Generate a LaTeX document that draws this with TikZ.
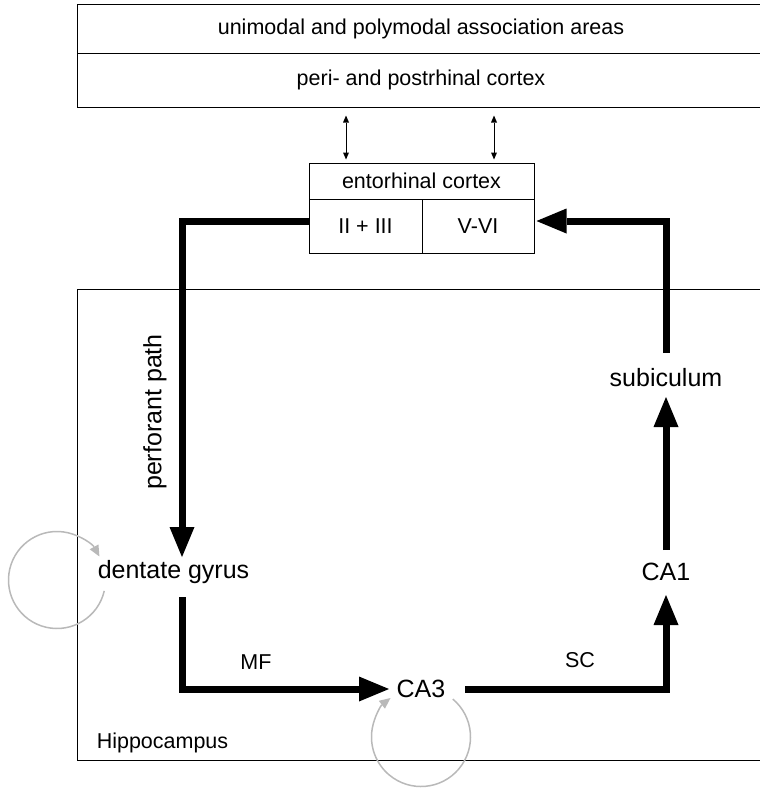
\documentclass[tikz,border=0pt]{standalone}
\usepackage{fontspec}
\setmainfont{Liberation Sans}
\usetikzlibrary{arrows.meta}
\newcommand{\smallsize}{\fontsize{21.5}{24}\selectfont}
\newcommand{\bigsize}{\fontsize{25}{28}\selectfont}
\begin{document}
\begin{tikzpicture}[x=1pt, y=-1pt,
    box/.style = {shape=rectangle, draw, line width=1pt,
      inner sep=0pt, font=\smallsize},
    region/.style = {inner sep=0pt, font=\bigsize},
    tag/.style = {inner sep=0pt, font=\smallsize},
    mainpath/.style = {line width=7pt,
      -{Triangle[length=30pt,width=25pt,line width=0pt]}},
    biarrow/.style = {line width=0.8pt,
      {Triangle[length=7pt,width=6pt,line width=0pt]}-{Triangle[length=7pt,width=6pt,line width=0pt]}},
    selfloop/.style = {draw=gray!55, line width=1.5pt,
      -{Triangle[length=11pt,width=10pt,line width=0pt]}}]
  \useasboundingbox (0,0) rectangle (760,788);
  \clip (0,0) rectangle (760,788);
  % cortical boxes
  \node[box, minimum width=688pt, minimum height=49pt] (assoc) at (421,28.5) {unimodal and polymodal association areas};
  \node[box, minimum width=688pt, minimum height=54pt] (peri) at (421,80) {peri- and postrhinal cortex};
  \node[box, minimum width=225pt, minimum height=36pt] (ento) at (421.5,181) {entorhinal cortex};
  \node[box, minimum width=113pt, minimum height=54pt] (layerII) at (365.5,226) {II + III};
  \node[box, minimum width=112pt, minimum height=54pt] (layerV) at (478,226) {V-VI};
  \coordinate (px1) at (346,0);
  \coordinate (px2) at (494,0);
  \draw[biarrow] ([yshift=-8pt]peri.south -| px1) -- ([yshift=3pt]ento.north -| px1);
  \draw[biarrow] ([yshift=-8pt]peri.south -| px2) -- ([yshift=3pt]ento.north -| px2);
  % hippocampus
  \node[draw, line width=1pt, minimum width=688pt, minimum height=471pt] (hippo) at (421,524.5) {};
  \node[tag] (hippolabel) at (162.5,743) {Hippocampus};
  \node[region] (dg) at (173.5,572) {dentate gyrus};
  \node[region] (ca3) at (421,689) {CA3};
  \node[region] (ca1) at (666,572) {CA1};
  \node[region] (sub) at (666,378) {subiculum};
  \coordinate (lx) at (182,0);
  % trisynaptic loop
  \draw[mainpath] ([yshift=5pt]layerII.west) -| ([yshift=15pt]dg.center -| lx);
  \draw[mainpath] ([yshift=-25pt]dg.center -| lx) |- ([xshift=-32pt]ca3.center);
  \draw[mainpath] ([xshift=44pt]ca3.center) -| ([yshift=-23pt]ca1.center);
  \draw[mainpath] ([yshift=22pt]ca1.center) -- ([yshift=-19pt]sub.center);
  \draw[mainpath] ([yshift=25pt]sub.center) |- ([yshift=5pt,xshift=2pt]layerV.east);
  \node[region, rotate=90] (pp) at (155,412) {perforant path};
  \node[tag] (mf) at (256,662) {MF};
  \node[tag] (sc) at (580,660) {SC};
  % recurrent loops
  \coordinate (dgloop) at (57,580);
  \coordinate (caloop) at (421,737);
  \draw[selfloop] ([shift={(-13:48.5pt)}]dgloop) arc[start angle=-13, end angle=-331, radius=48.5pt];
  \draw[selfloop] ([shift={(50:49.5pt)}]caloop) arc[start angle=50, end angle=-232, radius=49.5pt];
\end{tikzpicture}
\end{document}
